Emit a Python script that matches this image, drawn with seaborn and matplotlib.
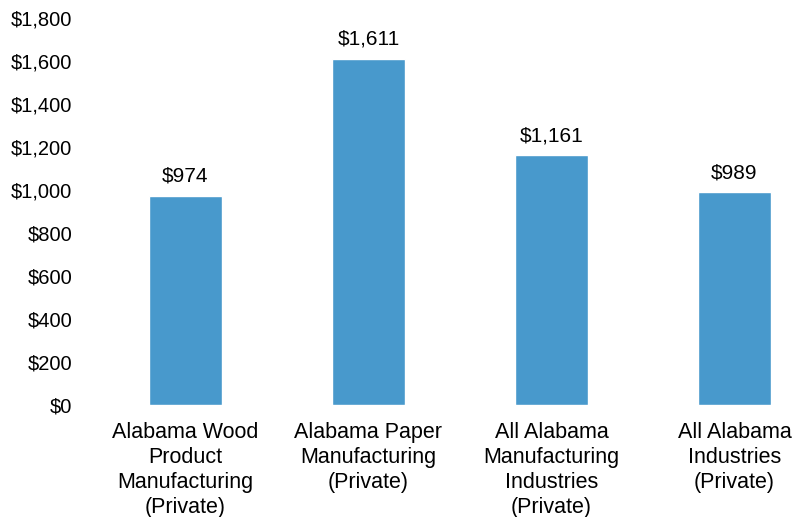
import matplotlib
matplotlib.use("Agg")
import matplotlib.pyplot as plt
import seaborn as sns
import pandas as pd
from matplotlib.ticker import FuncFormatter

categories = [
    "Alabama Wood\nProduct\nManufacturing\n(Private)",
    "Alabama Paper\nManufacturing\n(Private)",
    "All Alabama\nManufacturing\nIndustries\n(Private)",
    "All Alabama\nIndustries\n(Private)",
]
values = [974, 1611, 1161, 989]
yticks = [0, 200, 400, 600, 800, 1000, 1200, 1400, 1600, 1800]

sns.set_theme(style="white")
plt.rcParams['font.family'] = ['Liberation Sans', 'DejaVu Sans']

df = pd.DataFrame({"cat": categories, "val": values})

fig = plt.figure(figsize=(7.96, 5.17), dpi=100)
ax = fig.add_axes([94/796, (517-405)/517, (796-94)/796, (405-18)/517])
sns.barplot(data=df, x="cat", y="val", color="#4899CC", saturation=1, width=0.4, ax=ax)

ax.set_ylim(0, 1800)
ax.set_xlim(-0.5, -0.5 + 702/183)
ax.set_yticks(yticks)
ax.yaxis.set_major_formatter(FuncFormatter(lambda v, p: f"${v:,.0f}"))
ax.set_xlabel("")
ax.set_ylabel("")
for s in ax.spines.values():
    s.set_visible(False)
ax.tick_params(axis="y", labelsize=14.5, length=0, pad=15.5)
ax.tick_params(axis="x", labelsize=15.5, length=0, pad=12.5)
for lbl in ax.get_xticklabels():
    lbl.set_linespacing(1.25)
    lbl.set_color("black")
for lbl in ax.get_yticklabels():
    lbl.set_color("black")

for c in ax.containers:
    ax.bar_label(c, labels=[f"${v:,.0f}" for v in values], padding=7, fontsize=15, color="black")

fig.savefig("out.png", dpi=100)
